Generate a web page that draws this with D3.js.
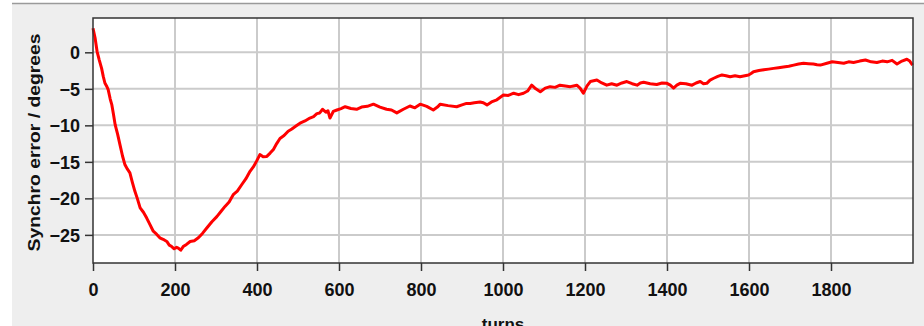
<!DOCTYPE html>
<html>
<head>
<meta charset="utf-8">
<script src="https://cdn.jsdelivr.net/npm/d3@7"></script>
<style>
    body { margin: 0; background: #ffffff; }
    svg { display: block; }
    .tickLabel { font-family: "Liberation Sans", Arial, sans-serif; font-weight: bold; font-size: 18px; fill: #111; }
    .axisLabel { font-family: "Liberation Sans", Arial, sans-serif; font-weight: bold; font-size: 17px; fill: #111; }
</style>
</head>
<body>
<div id="canvas"></div>
<script>
// DATA
const turns = [0, 5, 10, 15, 21, 25, 29, 33, 37, 42, 46, 50, 54, 60, 66, 72, 78, 84, 90, 96,
    102, 108, 115, 123, 131, 139, 147, 155, 163, 171, 180, 186, 192, 198, 204, 208, 214, 220, 228, 237,
    247, 257, 267, 277, 290, 302, 312, 322, 332, 342, 352, 363, 373, 383, 391, 399, 407, 415, 424, 432,
    440, 448, 456, 466, 476, 485, 495, 505, 517, 529, 538, 546, 553, 560, 568, 573, 578, 586, 595, 605,
    615, 629, 643, 655, 669, 684, 700, 716, 728, 741, 757, 773, 785, 798, 814, 830, 840, 847, 866, 887,
    900, 911, 920, 930, 944, 952, 961, 972, 985, 1001, 1013, 1026, 1038, 1050, 1060, 1070, 1080, 1091, 1103, 1115,
    1127, 1139, 1152, 1164, 1172, 1180, 1188, 1196, 1205, 1213, 1221, 1229, 1241, 1253, 1265, 1278, 1290, 1302, 1315, 1327,
    1335, 1343, 1359, 1375, 1388, 1400, 1408, 1416, 1424, 1432, 1446, 1461, 1471, 1481, 1489, 1497, 1505, 1514, 1524, 1534,
    1544, 1554, 1566, 1578, 1590, 1599, 1605, 1611, 1624, 1636, 1648, 1660, 1672, 1684, 1697, 1709, 1721, 1733, 1745, 1757,
    1766, 1774, 1790, 1803, 1817, 1831, 1843, 1855, 1870, 1884, 1898, 1912, 1925, 1937, 1949, 1961, 1973, 1985, 1992, 1999];

const synchroError = [3.3, 2.0, 0.1, -1.0, -2.2, -3.3, -4.2, -4.6, -5.1, -6.4, -7.2, -8.5, -9.9, -11.2, -12.7, -14.2, -15.4, -16.0, -16.5, -17.8,
    -19.0, -20.0, -21.3, -21.9, -22.7, -23.6, -24.5, -24.9, -25.4, -25.6, -25.9, -26.4, -26.6, -26.9, -26.7, -26.8, -27.1, -26.6, -26.3, -25.9,
    -25.8, -25.4, -24.8, -24.1, -23.2, -22.5, -21.8, -21.1, -20.5, -19.5, -19.0, -18.1, -17.3, -16.3, -15.7, -14.9, -14.0, -14.3, -14.25, -13.8,
    -13.3, -12.5, -11.8, -11.4, -10.8, -10.5, -10.1, -9.7, -9.4, -9.0, -8.8, -8.4, -8.3, -7.8, -8.2, -8.0, -9.0, -8.1, -7.9, -7.7,
    -7.45, -7.7, -7.8, -7.5, -7.4, -7.1, -7.5, -7.8, -7.9, -8.3, -7.8, -7.35, -7.6, -7.1, -7.4, -7.9, -7.5, -7.1, -7.3, -7.45,
    -7.2, -7.0, -7.0, -6.9, -6.8, -6.9, -7.2, -6.8, -6.5, -5.85, -5.9, -5.6, -5.8, -5.6, -5.3, -4.5, -5.0, -5.4, -4.9, -4.7,
    -4.8, -4.5, -4.6, -4.7, -4.6, -4.5, -4.9, -5.6, -4.6, -4.0, -3.9, -3.8, -4.2, -4.5, -4.3, -4.5, -4.2, -4.0, -4.3, -4.5,
    -4.2, -4.1, -4.3, -4.4, -4.2, -4.25, -4.5, -4.9, -4.5, -4.25, -4.3, -4.5, -4.2, -4.0, -4.3, -4.25, -3.8, -3.55, -3.3, -3.1,
    -3.2, -3.35, -3.2, -3.35, -3.2, -3.1, -2.9, -2.65, -2.5, -2.4, -2.3, -2.2, -2.1, -2.0, -1.9, -1.75, -1.6, -1.5, -1.55, -1.6,
    -1.7, -1.75, -1.5, -1.3, -1.4, -1.5, -1.3, -1.4, -1.2, -1.05, -1.3, -1.4, -1.2, -1.3, -1.1, -1.6, -1.2, -0.95, -1.2, -1.75];

const xTicks = [0, 200, 400, 600, 800, 1000, 1200, 1400, 1600, 1800];
const yTicks = [0, -5, -10, -15, -20, -25];

const data = turns.map((t, i) => ({ turn: t, err: synchroError[i] }));

// DIMENSIONS
const width = 924;
const height = 326;
const margin = { top: 18, right: 11, bottom: 63, left: 93 };
const plot_width = width - margin.left - margin.right;
const plot_height = height - margin.top - margin.bottom;

// CANVAS
const canvas = d3.select("#canvas")
    .append("svg")
    .attr("width", width)
    .attr("height", height);

// grey panel with top border
canvas.append("rect")
    .attr("x", 12).attr("y", 3.5)
    .attr("width", width - 12).attr("height", height)
    .style("fill", "#eeeeee");
canvas.append("line")
    .attr("x1", 12).attr("x2", width)
    .attr("y1", 3.5).attr("y2", 3.5)
    .style("stroke", "#9a9a9a").style("stroke-width", 1.5);

const plot = canvas.append("g")
    .attr("transform", `translate(${margin.left}, ${margin.top})`);

// SCALES
const xScale = d3.scaleLinear().domain([0, 2000]).range([0, plot_width]);
const yScale = d3.scaleLinear().domain([-28.85, 4.7]).range([plot_height, 0]);

plot.append("rect")
    .attr("width", plot_width).attr("height", plot_height)
    .style("fill", "#ffffff");

// GRID
plot.selectAll(".vgrid").data(xTicks.slice(1)).enter()
    .append("line")
    .attr("x1", d => xScale(d)).attr("x2", d => xScale(d))
    .attr("y1", 0).attr("y2", plot_height)
    .style("stroke", "#cbcbcb").style("stroke-width", 2);

plot.selectAll(".hgrid").data(yTicks).enter()
    .append("line")
    .attr("x1", 0).attr("x2", plot_width)
    .attr("y1", d => yScale(d)).attr("y2", d => yScale(d))
    .style("stroke", "#cbcbcb").style("stroke-width", 2);

// THE LINE
const makeLine = d3.line()
    .x(d => xScale(d.turn))
    .y(d => yScale(d.err));

plot.append("path")
    .attr("d", makeLine(data))
    .style("stroke", "#ff0000")
    .style("stroke-width", 3)
    .style("stroke-linejoin", "round")
    .style("fill", "none");

// FRAME
plot.append("rect")
    .attr("width", plot_width).attr("height", plot_height)
    .style("fill", "none")
    .style("stroke", "#333333").style("stroke-width", 1.5);

// AXES
const xAx = d3.axisBottom(xScale).tickValues(xTicks).tickFormat(d3.format("d")).tickSize(8);
const yAx = d3.axisLeft(yScale).tickValues(yTicks).tickFormat(d3.format("d")).tickSize(8);

const xaxis = plot.append("g")
    .attr("transform", `translate(0, ${plot_height})`)
    .call(xAx);
const yaxis = plot.append("g").call(yAx);

[xaxis, yaxis].forEach(ax => {
    ax.select(".domain").remove();
    ax.selectAll(".tick line").style("stroke", "#333333").style("stroke-width", 1.5);
    ax.selectAll(".tick text").attr("class", "tickLabel").attr("fill", null);
});
xaxis.selectAll(".tick text").attr("dy", null).attr("y", 32.5);
yaxis.selectAll(".tick text").attr("x", -13).attr("dy", "0.36em");

// LABELS
canvas.append("text")
    .attr("class", "axisLabel")
    .attr("x", margin.left + plot_width / 2)
    .attr("y", 330)
    .attr("text-anchor", "middle")
    .text("turns");

canvas.append("text")
    .attr("class", "axisLabel")
    .attr("transform", "translate(40, 142.5) rotate(-90)")
    .attr("text-anchor", "middle")
    .attr("textLength", 218)
    .attr("lengthAdjust", "spacingAndGlyphs")
    .text("Synchro error / degrees");
</script>
</body>
</html>
